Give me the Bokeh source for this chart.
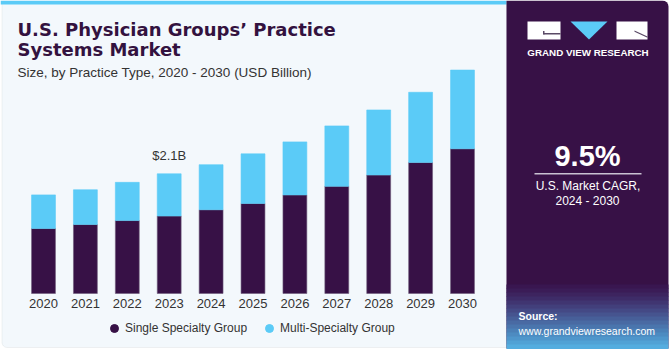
from bokeh.plotting import figure
from bokeh.models import (Range1d, BoxAnnotation, Label, Legend, LegendItem,
                          PolyAnnotation, ColumnDataSource)
from bokeh.core.properties import value
from bokeh.embed import file_html
from bokeh.resources import INLINE

# ---- data ----
years = ["2020", "2021", "2022", "2023", "2024", "2025", "2026", "2027", "2028", "2029", "2030"]
single_specialty = [1.14, 1.21, 1.28, 1.36, 1.47, 1.58, 1.73, 1.88, 2.08, 2.30, 2.54]
multi_specialty = [0.59, 0.61, 0.67, 0.74, 0.79, 0.87, 0.93, 1.06, 1.14, 1.23, 1.38]
series_names = ["Single Specialty Group", "Multi-Specialty Group"]
annot_year = "2023"
annot_text = "$2.1B"

DARK = "#371146"
CYAN = "#5bcbf7"
TITLE_C = "#33123f"
TEXT_C = "#333333"

W, H = 670, 350
X0, XSTEP = 43.0, 41.9     # canvas px of first category, px per category
Y0, YSCALE = 293.0, 57.0   # canvas px of baseline, px per USD billion

p = figure(width=W, height=H,
           x_range=Range1d(-X0 / XSTEP, (W - X0) / XSTEP),
           y_range=Range1d(-(H - Y0) / YSCALE, Y0 / YSCALE),
           output_backend="svg", toolbar_location=None,
           x_axis_location=None, y_axis_location=None,
           min_border=0, min_border_left=0, min_border_right=0,
           min_border_top=0, min_border_bottom=0)
p.border_fill_color = "white"
p.background_fill_color = "white"
p.outline_line_color = None
p.xgrid.visible = False
p.ygrid.visible = False

def sx(X):
    return X

def sy(Y):
    return H - Y

def box(x0, y0, x1, y1, color, line=None, radius=0, level="underlay", alpha=1.0):
    b = BoxAnnotation(left=sx(x0), right=sx(x1), top=sy(y0), bottom=sy(y1),
                      left_units="screen", right_units="screen",
                      top_units="screen", bottom_units="screen",
                      fill_color=color, fill_alpha=alpha,
                      line_color=line, line_width=1, level=level,
                      border_radius=radius, editable=False)
    p.add_layout(b)
    return b

# left panel
box(1.5, 1, 506, 347, "#f3f8fc", line="#cfd3d8", radius=(0, 0, 0, 5))
box(0, 0, 506, 4, CYAN)
# right panel
box(506, 0, 668, 348, DARK, radius=(0, 6, 0, 0))
grad = ["#391650", "#3b1c57", "#3d245f", "#3e2c68", "#403571", "#423f7b", "#444985",
        "#46548f", "#475f99", "#496aa3", "#4a75ad", "#4b80b7", "#4d8bc1", "#4f96cb",
        "#51a2d5", "#54addf"]
gy0 = 284
for i, c in enumerate(grad):
    box(506, gy0 + i * 4, 668, gy0 + (i + 1) * 4 + 0.5, c)

# logo
box(527, 21, 560, 39, "white", level="annotation")
box(543, 32.5, 560, 34, "#5a4a66", level="annotation")
box(542.5, 30.5, 544, 34, "#5a4a66", level="annotation")
box(616, 21, 647, 39, "white", level="annotation")
tri = PolyAnnotation(xs=[sx(570), sx(607), sx(588.5)], ys=[sy(21), sy(21), sy(39)],
                     xs_units="screen", ys_units="screen", fill_color=CYAN, fill_alpha=1,
                     line_color=None)
p.add_layout(tri)
slash = PolyAnnotation(xs=[sx(634), sx(647), sx(647), sx(634)],
                       ys=[sy(30), sy(36), sy(37.3), sy(31.3)],
                       xs_units="screen", ys_units="screen", fill_color="#5a4a66",
                       fill_alpha=1, line_color=None)
p.add_layout(slash)

def label(X, Y, text, size, color="white", bold=False, align="left", font="Liberation Sans",
          baseline="middle"):
    l = Label(x=sx(X), y=sy(Y), x_units="screen", y_units="screen", text=text,
              text_font=font, text_font_size=f"{size}px",
              text_font_style="bold" if bold else "normal", text_color=color,
              text_align=align, text_baseline=baseline)
    p.add_layout(l)
    return l

label(587.5, 51.5, "GRAND VIEW RESEARCH", 9.8, bold=True, align="center")
label(587, 155, "9.5%", 29, bold=True, align="center")
box(534, 172.5, 641, 174, "#c9c2d2", level="annotation")
label(587.5, 185.5, "U.S. Market CAGR,", 12, align="center")
label(587, 200.5, "2024 - 2030", 12, align="center")
label(518, 315, "Source:", 10.5, bold=True)
label(518, 330, "www.grandviewresearch.com", 10.5)

# titles
label(17, 28.5, "U.S. Physician Groups’ Practice", 18, color=TITLE_C, bold=True,
      font="DejaVu Sans")
label(17, 49, "Systems Market", 18, color=TITLE_C, bold=True, font="DejaVu Sans")
label(17, 71.5, "Size, by Practice Type, 2020 - 2030 (USD Billion)", 13.5, color=TEXT_C)

# bars
idx = list(range(len(years)))
src = ColumnDataSource(dict(x=idx, years=years, single=single_specialty,
                            multi=multi_specialty))
p.vbar_stack(["single", "multi"], x="x", width=0.57, source=src,
             color=[DARK, CYAN], line_color=["#6d5a7a", CYAN], line_width=0.6)

# year tick labels under the bars
p.text(x="x", y=0, text="years", source=src, text_font=value("Liberation Sans"),
       text_font_size="13px", text_color=TEXT_C, text_align="center",
       text_baseline="middle", y_offset=10)

# annotation above 2023
i23 = years.index(annot_year)
asrc = ColumnDataSource(dict(x=[i23], y=[single_specialty[i23] + multi_specialty[i23]],
                             t=[annot_text]))
p.text(x="x", y="y", text="t", source=asrc, text_font=value("Liberation Sans"),
       text_font_size="13px", text_color=TEXT_C, text_align="center",
       text_baseline="middle", y_offset=-18)

# legend with circle markers (renderers hold one off-view point so legend glyphs draw)
d1 = p.scatter([-50], [-50], marker="circle", color=DARK, size=8)
d2 = p.scatter([-50], [-50], marker="circle", color=CYAN, size=8)
leg = Legend(items=[LegendItem(label=series_names[0], renderers=[d1]),
                    LegendItem(label=series_names[1], renderers=[d2])],
             location=(104, H - 338), orientation="horizontal", glyph_width=20,
             glyph_height=20, label_standoff=1, spacing=12, padding=0, margin=0,
             border_line_color=None, background_fill_alpha=0,
             label_text_font="Liberation Sans", label_text_font_size="12px",
             label_text_color=TEXT_C, label_height=20)
p.add_layout(leg)

open("out.html", "w").write(file_html(p, INLINE))
